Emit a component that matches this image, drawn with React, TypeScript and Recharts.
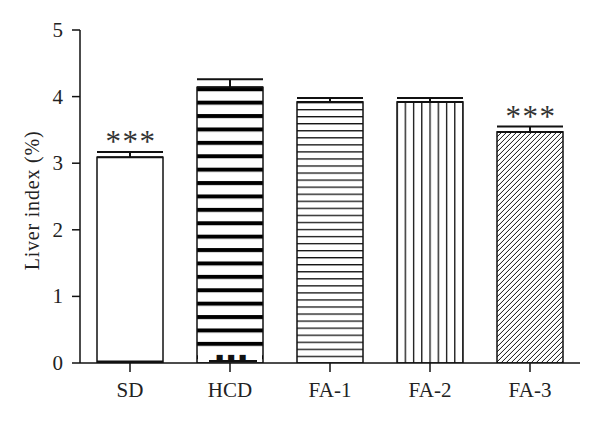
import React from 'react';
import { Bar, BarChart, ErrorBar, LabelList, XAxis, YAxis, Label } from 'recharts';

const categories = ['SD', 'HCD', 'FA-1', 'FA-2', 'FA-3'];
const means = [3.09, 4.14, 3.92, 3.92, 3.47];
const sems = [0.08, 0.12, 0.06, 0.06, 0.08];
const topMarks = ['***', '', '', '', '***'];
const baseMarks = ['', '\u25A0\u25A0\u25A0', '', '', ''];
const fills = ['plain', 'thick', 'thin', 'vertical', 'diag'];
const yTicks = [0, 1, 2, 3, 4, 5];

const data = categories.map((name, i) => ({
  name,
  value: means[i],
  err: [0, sems[i]],
  top: topMarks[i],
  base: baseMarks[i],
  fill: fills[i],
}));

const FONT = '"Liberation Serif", "DejaVu Serif", serif';

const PatternBar = (props: any) => {
  const { x, y, width, height, payload, index } = props;
  const kind = payload?.fill;
  const id = `pat-${index}`;
  let pattern: React.ReactNode = null;
  if (kind === 'thick') {
    pattern = (
      <pattern id={id} patternUnits="userSpaceOnUse" x={x} y={y} width={width} height={13.4}>
        <rect x={0} y={0} width={width} height={13.4} fill="#fff" />
        <rect x={0} y={0} width={width} height={4} fill="#000" />
      </pattern>
    );
  } else if (kind === 'thin') {
    pattern = (
      <pattern id={id} patternUnits="userSpaceOnUse" x={x} y={y} width={width} height={7.05}>
        <rect x={0} y={0} width={width} height={7.05} fill="#fff" />
        <rect x={0} y={0} width={width} height={1.3} fill="#111" />
      </pattern>
    );
  } else if (kind === 'vertical') {
    const p = width / 8;
    pattern = (
      <pattern id={id} patternUnits="userSpaceOnUse" x={x - 0.6} y={y} width={p} height={height}>
        <rect x={0} y={0} width={p} height={height} fill="#fff" />
        <rect x={0} y={0} width={1.3} height={height} fill="#111" />
      </pattern>
    );
  } else if (kind === 'diag') {
    pattern = (
      <pattern id={id} patternUnits="userSpaceOnUse" x={x} y={y} width={5} height={5}>
        <rect x={0} y={0} width={5} height={5} fill="#fff" />
        <path d="M-1,6 L6,-1 M-1,1 L1,-1 M4,6 L6,4" stroke="#111" strokeWidth={1} />
      </pattern>
    );
  }
  return (
    <g>
      {pattern && <defs>{pattern}</defs>}
      <rect x={x} y={y} width={width} height={height} fill={pattern ? `url(#${id})` : '#fff'} stroke="#111" strokeWidth={1.5} />
      {kind === 'plain' && <rect x={x} y={y + height - 2.5} width={width} height={2.5} fill="#111" />}
    </g>
  );
};

const TopMark = (props: any) => {
  const { x, y, width, value } = props;
  if (!value) return null;
  return (
    <text x={x + width / 2 + 1} y={y - 5} textAnchor="middle" fontFamily={FONT} fontSize={31} fill="#333" letterSpacing={1.5}>
      {value}
    </text>
  );
};

const BaseMark = (props: any) => {
  const { x, y, width, height, value } = props;
  if (!value) return null;
  const cx = x + width / 2;
  const b = y + height;
  return (
    <g>
      <rect x={x + 1} y={b - 16} width={width - 2} height={15} fill="#fff" />
      <line x1={cx - 21} x2={cx + 27} y1={b - 2} y2={b - 2} stroke="#111" strokeWidth={2} />
      <text x={cx + 3} y={b - 3} textAnchor="middle" fontFamily="DejaVu Sans" fontSize={8} fill="#111" letterSpacing={4}>
        {value}
      </text>
    </g>
  );
};

const YTick = (props: any) => {
  const { x, y, payload } = props;
  return (
    <text x={x} y={y + 7} textAnchor="end" fontFamily={FONT} fontSize={21} fill="#222">
      {payload.value}
    </text>
  );
};

const XTick = (props: any) => {
  const { x, y, payload } = props;
  return (
    <text x={x} y={y + 15} textAnchor="middle" fontFamily={FONT} fontSize={21} fill="#222">
      {payload.value}
    </text>
  );
};

export default function App() {
  return (
    <div style={{ position: 'absolute', left: 0, top: 0, background: '#fff' }}>
      <BarChart
        width={600}
        height={423}
        data={data}
        margin={{ top: 30, right: 20, bottom: 30, left: 0 }}
        barCategoryGap="17%"
      >
        <YAxis
          width={80}
          domain={[0, 5]}
          ticks={yTicks}
          tickSize={8}
          tickMargin={9}
          axisLine={{ stroke: '#111', strokeWidth: 1.5 }}
          tickLine={{ stroke: '#111', strokeWidth: 1.5 }}
          tick={YTick}
          allowDataOverflow
        >
          <Label
            value="Liver index (%)"
            angle={-90}
            position="center"
            dx={-8}
            dy={4}
            fontSize={20}
            fontFamily={FONT}
            fill="#222"
            letterSpacing={0.8}
          />
        </YAxis>
        <XAxis
          dataKey="name"
          height={30}
          tickSize={9}
          tickMargin={10}
          axisLine={{ stroke: '#111', strokeWidth: 1.5 }}
          tickLine={{ stroke: '#111', strokeWidth: 1.5 }}
          tick={XTick}
        />
        <Bar dataKey="value" shape={PatternBar} isAnimationActive={false}>
          <ErrorBar dataKey="err" width={33} stroke="#111" strokeWidth={2} direction="y" />
          <LabelList dataKey="top" content={TopMark} />
          <LabelList dataKey="base" content={BaseMark} />
        </Bar>
      </BarChart>
    </div>
  );
}
